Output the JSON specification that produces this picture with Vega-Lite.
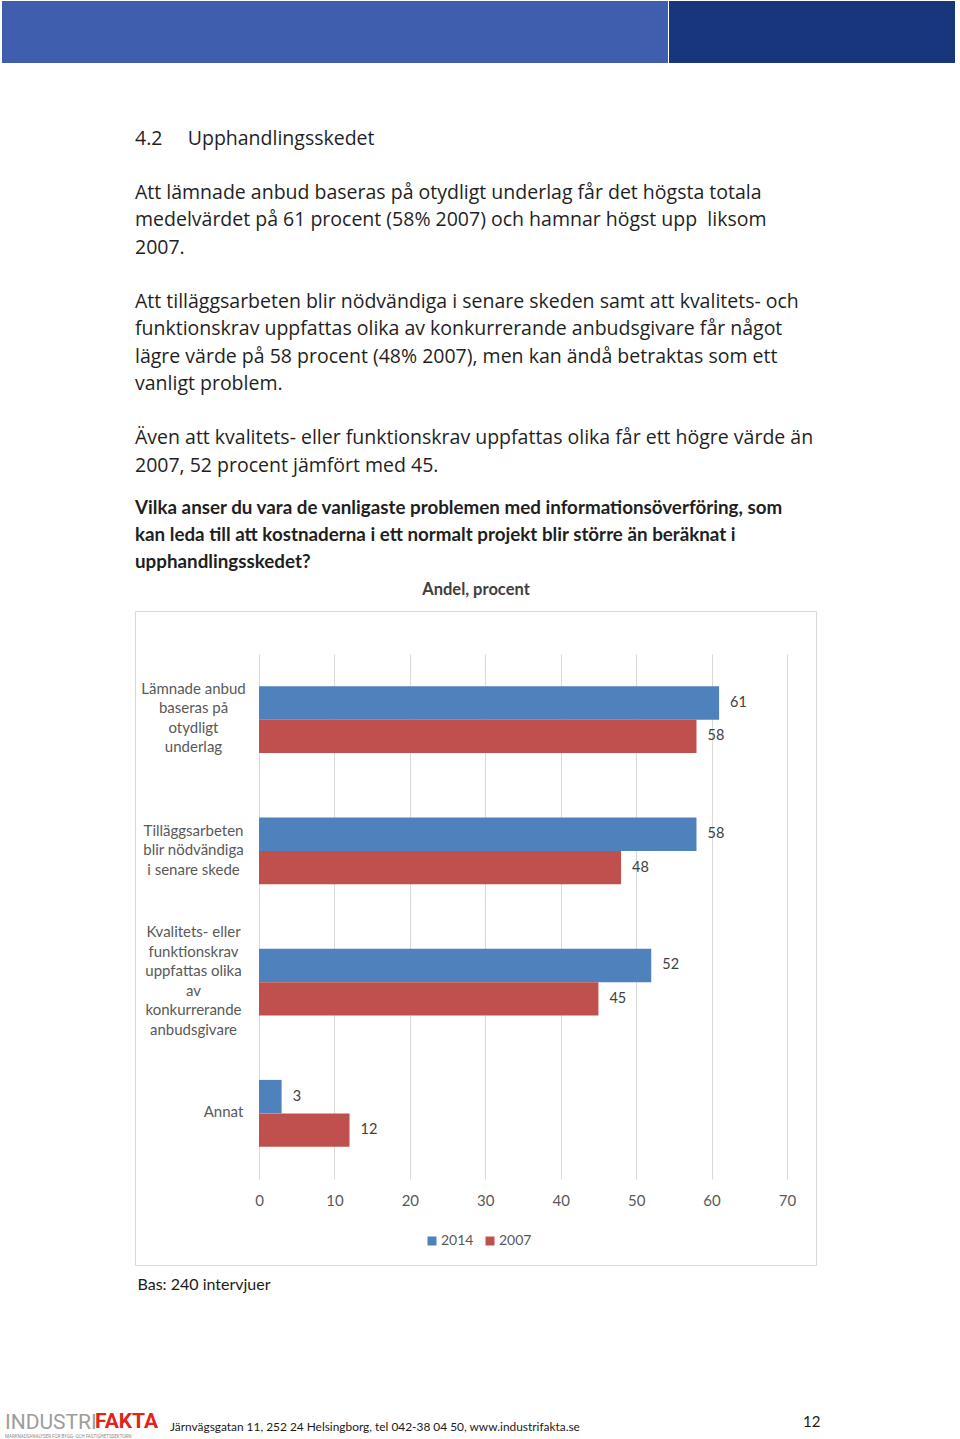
{
  "$schema": "https://vega.github.io/schema/vega-lite/v6.json",
  "background": "white",
  "padding": {"left": 2, "top": 1, "right": 0, "bottom": 0},
  "config": {"view": {"stroke": null}},
  "spacing": 0,
  "vconcat": [
    {
      "spacing": 1,
      "hconcat": [
        {"width": 666, "height": 62, "view": {"fill": "#3f5fae", "stroke": null}, "data": {"values": []}, "mark": "text", "encoding": {}},
        {"width": 286, "height": 62, "view": {"fill": "#17367c", "stroke": null}, "data": {"values": []}, "mark": "text", "encoding": {}}
      ]
    },
    {"width": 1, "height": 65, "data": {"values": []}, "mark": "text", "encoding": {}},
    {
      "spacing": 0,
      "hconcat": [
        {"width": 132, "height": 1, "data": {"values": []}, "mark": "text", "encoding": {}},
        {
          "width": 681,
          "height": 654,
          "view": {"stroke": "#d9d9d9", "strokeWidth": 1},
          "title": {
            "text": [
              "4.2\u00a0\u00a0\u00a0\u00a0\u00a0Upphandlingsskedet",
              "\u200b",
              "Att lämnade anbud baseras på otydligt underlag får det högsta totala",
              "medelvärdet på 61 procent (58% 2007) och hamnar högst upp\u00a0 liksom",
              "2007.",
              "\u200b",
              "Att tilläggsarbeten blir nödvändiga i senare skeden samt att kvalitets- och",
              "funktionskrav uppfattas olika av konkurrerande anbudsgivare får något",
              "lägre värde på 58 procent (48% 2007), men kan ändå betraktas som ett",
              "vanligt problem.",
              "\u200b",
              "Även att kvalitets- eller funktionskrav uppfattas olika får ett högre värde än",
              "2007, 52 procent jämfört med 45."
            ],
            "anchor": "start",
            "font": "Open Sans",
            "fontSize": 19.5,
            "fontWeight": "normal",
            "color": "#1f1f1f",
            "lineHeight": 27.25,
            "limit": 0,
            "subtitle": [
              "Vilka anser du vara de vanligaste problemen med informationsöverföring, som",
              "kan leda till att kostnaderna i ett normalt projekt blir större än beräknat i",
              "upphandlingsskedet?"
            ],
            "subtitleFont": "Lato",
            "subtitleFontSize": 18.8,
            "subtitleFontWeight": "bold",
            "subtitleColor": "#1f1f1f",
            "subtitleLineHeight": 27,
            "subtitlePadding": 23,
            "offset": 8
          },
          "data": {
            "values": [
              {"problem": "Lämnade anbud|baseras på|otydligt|underlag", "year": "2014", "value": 61},
              {"problem": "Lämnade anbud|baseras på|otydligt|underlag", "year": "2007", "value": 58},
              {"problem": "Tilläggsarbeten|blir nödvändiga|i senare skede", "year": "2014", "value": 58},
              {"problem": "Tilläggsarbeten|blir nödvändiga|i senare skede", "year": "2007", "value": 48},
              {"problem": "Kvalitets- eller|funktionskrav|uppfattas olika|av|konkurrerande|anbudsgivare", "year": "2014", "value": 52},
              {"problem": "Kvalitets- eller|funktionskrav|uppfattas olika|av|konkurrerande|anbudsgivare", "year": "2007", "value": 45},
              {"problem": "Annat", "year": "2014", "value": 3},
              {"problem": "Annat", "year": "2007", "value": 12}
            ]
          },
          "layer": [
            {
              "mark": {"type": "bar"},
              "encoding": {
                "y": {
                  "field": "problem",
                  "type": "nominal",
                  "sort": null,
                  "scale": {"range": [43, 568], "paddingInner": 0.49, "paddingOuter": 0.245},
                  "axis": {
                    "title": null,
                    "domain": false,
                    "ticks": false,
                    "grid": false,
                    "offset": -124,
                    "labelAlign": "center",
                    "labelBaseline": "middle",
                    "labelPadding": {"condition": {"test": "datum.value === 'Annat'", "value": 36}, "value": 66},
                    "labelOffset": {
                      "condition": [
                        {"test": "indexof(datum.value, 'Lämnade') === 0", "value": -31},
                        {"test": "indexof(datum.value, 'Tilläggs') === 0", "value": -20},
                        {"test": "indexof(datum.value, 'Kvalitets') === 0", "value": -50}
                      ],
                      "value": -1
                    },
                    "labelExpr": "split(datum.label, '|')",
                    "labelFont": "Lato",
                    "labelFontSize": 15,
                    "labelColor": "#595959",
                    "labelLineHeight": 19.5,
                    "labelLimit": 0
                  }
                },
                "yOffset": {"field": "year", "type": "nominal", "sort": ["2014", "2007"], "scale": {"paddingInner": 0, "paddingOuter": 0}},
                "x": {
                  "field": "value",
                  "type": "quantitative",
                  "scale": {"domain": [0, 70], "range": [124, 652], "nice": false},
                  "axis": {
                    "orient": "bottom",
                    "offset": -82,
                    "values": [0, 10, 20, 30, 40, 50, 60, 70],
                    "grid": false,
                    "domain": false,
                    "ticks": false,
                    "labelFlush": false,
                    "labelFont": "Lato",
                    "labelFontSize": 15,
                    "labelColor": "#595959",
                    "labelPadding": 10,
                    "title": "Bas: 240 intervjuer",
                    "titleX": 2,
                    "titleY": 101,
                    "titleAlign": "left",
                    "titleBaseline": "middle",
                    "titleFont": "Lato",
                    "titleFontSize": 16,
                    "titleFontWeight": "normal",
                    "titleColor": "#1a1a1a"
                  }
                },
                "color": {
                  "field": "year",
                  "type": "nominal",
                  "scale": {"domain": ["2014", "2007"], "range": ["#4f81bd", "#c0504d"]},
                  "legend": {
                    "orient": "none",
                    "legendX": 423,
                    "legendY": 1233,
                    "direction": "horizontal",
                    "title": null,
                    "symbolType": "square",
                    "symbolSize": 81,
                    "symbolStrokeWidth": 0,
                    "labelFont": "Lato",
                    "labelFontSize": 14,
                    "labelColor": "#595959",
                    "labelOffset": 2,
                    "columnPadding": 9
                  }
                }
              }
            },
            {
              "mark": {"type": "text", "align": "left", "baseline": "middle", "dx": 11, "font": "Lato", "fontSize": 14.5, "color": "#404040"},
              "encoding": {
                "y": {"field": "problem", "type": "nominal", "sort": null},
                "yOffset": {"field": "year", "type": "nominal", "sort": ["2014", "2007"]},
                "x": {
                  "field": "value",
                  "type": "quantitative",
                  "axis": {
                    "orient": "top",
                    "title": "Andel, procent",
                    "values": [0, 10, 20, 30, 40, 50, 60, 70],
                    "labels": false,
                    "ticks": false,
                    "domain": false,
                    "grid": true,
                    "gridColor": "#d9d9d9",
                    "titleX": 340.5,
                    "titlePadding": 14,
                    "titleFont": "Lato",
                    "titleFontSize": 16.5,
                    "titleFontWeight": "bold",
                    "titleColor": "#404040"
                  }
                },
                "text": {"field": "value"}
              }
            }
          ],
          "resolve": {"axis": {"x": "independent"}}
        }
      ]
    },
    {"width": 1, "height": 118, "data": {"values": []}, "mark": "text", "encoding": {}},
    {
      "spacing": 0,
      "bounds": "flush",
      "hconcat": [
        {"width": 3, "height": 1, "data": {"values": []}, "mark": "text", "encoding": {}},
        {
          "width": 90, "height": 1, "data": {"values": []}, "mark": "text", "encoding": {},
          "title": {"text": "INDUSTRI", "subtitle": "MARKNADSANALYSER FÖR BYGG- OCH FASTIGHETSSEKTORN", "anchor": "start", "limit": 0, "subtitleLimit": 0, "font": "Roboto", "fontSize": 21, "fontWeight": "normal", "color": "#9d9d9d", "subtitleFont": "Roboto", "subtitleFontSize": 4.5, "subtitleColor": "#8a8a8a", "subtitlePadding": 1, "offset": 0}
        },
        {
          "width": 75, "height": 1, "data": {"values": []}, "mark": "text", "encoding": {},
          "title": {"text": "FAKTA", "anchor": "start", "limit": 0, "font": "Roboto", "fontSize": 21, "fontWeight": "bold", "color": "#e2231a", "offset": 6}
        },
        {
          "width": 633, "height": 1, "data": {"values": []}, "mark": "text", "encoding": {},
          "title": {"text": "Järnvägsgatan 11, 252 24 Helsingborg, tel 042-38 04 50, www.industrifakta.se", "anchor": "start", "limit": 0, "font": "Lato", "fontSize": 11.9, "fontWeight": "normal", "color": "#1a1a1a", "offset": 5, "dy": 1}
        },
        {
          "width": 30, "height": 1, "data": {"values": []}, "mark": "text", "encoding": {},
          "title": {"text": "12", "anchor": "start", "limit": 0, "font": "Lato", "fontSize": 15, "fontWeight": "normal", "color": "#1a1a1a", "offset": 10, "dy": 2}
        }
      ]
    }
  ]
}
